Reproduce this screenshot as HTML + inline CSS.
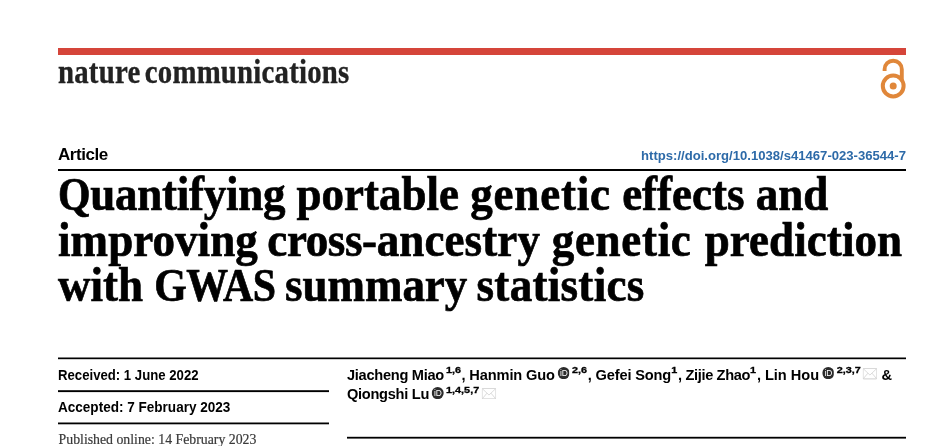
<!DOCTYPE html>
<html lang="en">
<head>
<meta charset="utf-8">
<title>Quantifying portable genetic effects and improving cross-ancestry genetic prediction with GWAS summary statistics</title>
<style>
html,body{margin:0;padding:0;background:#fff;}
body{width:950px;height:446px;position:relative;overflow:hidden;font-family:"Liberation Sans",sans-serif;color:#000;}
.abs{position:absolute;white-space:nowrap;line-height:1;}
#bar{position:absolute;left:58px;top:48px;width:848px;height:6.6px;background:#d5453a;}
#journal{left:58px;top:54px;font-family:"Liberation Serif",serif;font-weight:bold;font-size:34.6px;color:#222;transform-origin:0 0;transform:scaleX(0.833);word-spacing:-3.6px;letter-spacing:0.26px;-webkit-text-stroke:0.35px #222;}
#article{left:58px;top:146px;font-weight:bold;font-size:17px;letter-spacing:-0.45px;}
#doi{right:44px;top:149px;font-weight:bold;font-size:13.1px;color:#2d6aa8;}
#title{left:58px;top:171.1px;font-family:"Liberation Serif",serif;font-weight:bold;font-size:49px;line-height:45px;white-space:nowrap;position:absolute;-webkit-text-stroke:0.7px #000;transform-origin:0 0;transform:scaleX(0.918);}
#title .l2{letter-spacing:0.09px;}
#title .cap{font-size:0.93em;}
#rec{left:58px;top:368px;font-weight:bold;font-size:14.4px;transform-origin:0 0;transform:scaleX(0.915);}
#acc{left:58px;top:400px;font-weight:bold;font-size:14.4px;transform-origin:0 0;transform:scaleX(0.941);}
#pub{left:58.6px;top:433.2px;font-family:"Liberation Serif",serif;font-size:13.8px;color:#3a3a3a;-webkit-text-stroke:0.2px #3a3a3a;}
#authors{position:absolute;left:347.4px;top:364.6px;font-weight:bold;font-size:15.2px;letter-spacing:-0.3px;line-height:19.5px;white-space:nowrap;transform-origin:0 0;transform:scaleX(0.962);}
sup{display:inline-block;font-size:9.7px;line-height:1;vertical-align:6.3px;letter-spacing:0;margin-left:2px;-webkit-text-stroke:0.3px #000;transform-origin:0 50%;transform:scaleX(1.16);}
.s3{margin-right:2.84px}.s1{margin-right:1.50px}.s5{margin-right:4.41px}.s7{margin-right:6.05px}
.orc + sup{margin-left:2.3px;}
.orc{display:inline-block;width:12.5px;height:12.2px;vertical-align:0.2px;margin:0 0 0 3px;}
.env{display:inline-block;width:15.2px;height:11.4px;vertical-align:-0.2px;margin:0 4.4px 0 1.5px;}
</style>
</head>
<body>
<div id="bar"></div>
<div id="journal" class="abs">nature communications</div>
<svg id="oa" class="abs" style="left:878px;top:56px" width="30" height="46" viewBox="0 0 30 46">
  <g fill="none" stroke="#e0873a">
    <circle cx="15.2" cy="30" r="10.4" stroke-width="4"/>
    <path d="M6.6 15.1 V13.3 A8.6 8.6 0 0 1 23.8 13.3 V24" stroke-width="3.9"/>
  </g>
  <circle cx="15.2" cy="30" r="3.5" fill="#e0873a"/>
</svg>
<svg id="rules" class="abs" style="left:0;top:0" width="950" height="446" viewBox="0 0 950 446">
  <rect x="58" y="169" width="848" height="2" fill="#000"/>
  <rect x="58" y="357.5" width="848" height="1.7" fill="#000"/>
  <rect x="58" y="390.2" width="271" height="1.9" fill="#000"/>
  <rect x="58" y="422.5" width="271" height="1.8" fill="#000"/>
  <rect x="347" y="436.8" width="559" height="1.8" fill="#000"/>
</svg>
<div id="article" class="abs">Article</div>
<div id="doi" class="abs">https://doi.org/10.1038/s41467-023-36544-7</div>
<div id="title"><span class="l1"><span style="letter-spacing:-0.27px"><span class="cap">Q</span>uantifying</span> portable <span style="letter-spacing:0.9px">genetic</span> effects and</span><br><span class="l2">improving<span style="margin-left:-1.6px;letter-spacing:-0.4px"> cross-</span><span style="letter-spacing:0.13px">ancestry</span><span style="margin-left:-0.3px;letter-spacing:0.76px"> genetic</span><span style="margin-left:2.1px"> prediction</span></span><br><span class="l3">with <span class="cap" style="letter-spacing:-0.5px">GWAS</span><span style="margin-left:-2.1px"> summary</span><span style="margin-left:-2.6px;letter-spacing:0.34px"> statistics</span></span></div>
<div id="rec" class="abs">Received: 1 June 2022</div>
<div id="acc" class="abs">Accepted: 7 February 2023</div>
<div id="pub" class="abs">Published online: 14 February 2023</div>
<div id="authors"><span class="n">Jiacheng Miao</span><sup class="s3">1,6</sup><span class="n" style="letter-spacing:-0.15px">, Hanmin Guo</span><svg class="orc" viewBox="0 0 12 12" preserveAspectRatio="none"><circle cx="6" cy="6" r="6" fill="#2b2b2b"/><text x="6.1" y="9" font-family="Liberation Sans, sans-serif" font-size="8.4" font-weight="normal" fill="#fff" text-anchor="middle" letter-spacing="-0.1">iD</text></svg><sup class="s3">2,6</sup><span class="n" style="margin-left:0.2px;letter-spacing:-0.16px">, Gefei Song</span><sup class="s1" style="margin-left:0.3px">1</sup><span class="n" style="letter-spacing:-0.37px">, Zijie Zhao</span><sup class="s1" style="margin-left:0.2px">1</sup><span class="n" style="letter-spacing:-0.04px">, Lin Hou</span><svg class="orc" viewBox="0 0 12 12" preserveAspectRatio="none"><circle cx="6" cy="6" r="6" fill="#2b2b2b"/><text x="6.1" y="9" font-family="Liberation Sans, sans-serif" font-size="8.4" font-weight="normal" fill="#fff" text-anchor="middle" letter-spacing="-0.1">iD</text></svg><sup class="s5">2,3,7</sup><svg class="env" viewBox="0 0 15 11" preserveAspectRatio="none"><rect x="0.5" y="0.5" width="14" height="10" rx="0.8" fill="#fff" stroke="#d9d9d9" stroke-width="1"/><path d="M0.8 0.8 L7.5 6.8 L14.2 0.8 M0.8 10.2 L5.4 5 M14.2 10.2 L9.6 5" fill="none" stroke="#d2d2d2" stroke-width="0.8"/></svg><span class="n">&amp;</span><br><span class="n">Qiongshi Lu</span><svg class="orc" style="margin-left:2.9px" viewBox="0 0 12 12" preserveAspectRatio="none"><circle cx="6" cy="6" r="6" fill="#2b2b2b"/><text x="6.1" y="9" font-family="Liberation Sans, sans-serif" font-size="8.4" font-weight="normal" fill="#fff" text-anchor="middle" letter-spacing="-0.1">iD</text></svg><sup class="s7">1,4,5,7</sup><svg class="env" viewBox="0 0 15 11" preserveAspectRatio="none"><rect x="0.5" y="0.5" width="14" height="10" rx="0.8" fill="#fff" stroke="#d9d9d9" stroke-width="1"/><path d="M0.8 0.8 L7.5 6.8 L14.2 0.8 M0.8 10.2 L5.4 5 M14.2 10.2 L9.6 5" fill="none" stroke="#d2d2d2" stroke-width="0.8"/></svg></div>
</body>
</html>
